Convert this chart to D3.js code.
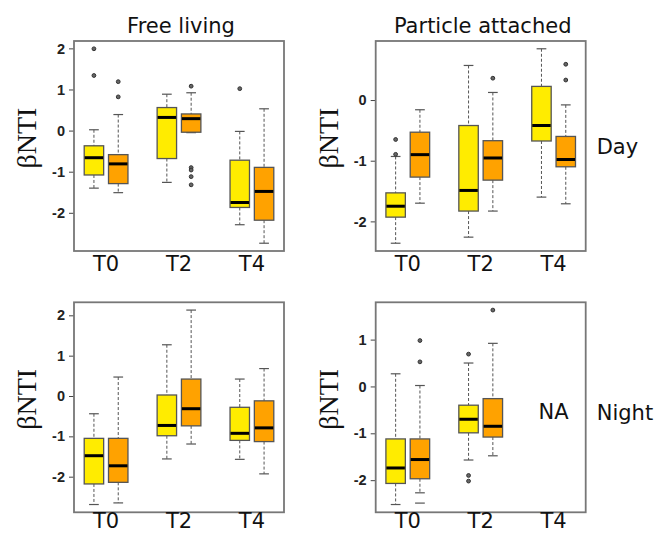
<!DOCTYPE html>
<html>
<head>
<meta charset="utf-8">
<script src="https://cdn.jsdelivr.net/npm/d3@7"></script>
<style>
  body { margin: 0; background: #fff; }
  svg { display: block; }
</style>
</head>
<body>
<div id="chart"></div>
<script>
const timepoints = ["T0", "T2", "T4"]
const fractions = ["Free living", "Particle attached"]
const periods = ["Day", "Night"]
const boxColors = ["#FFEC00", "#FFA200"]

// box: [whisker low, q1, median, q3, whisker high]; size 0 = yellow, 1 = orange
const freeDay = [
  { time: "T0", size: 0, box: [-1.40, -1.08, -0.66, -0.37, 0.02], out: [1.99, 1.34] },
  { time: "T0", size: 1, box: [-1.51, -1.29, -0.81, -0.585, 0.39], out: [1.19, 0.82] },
  { time: "T2", size: 0, box: [-1.26, -0.68, 0.32, 0.56, 0.885], out: [] },
  { time: "T2", size: 1, box: [-0.05, -0.04, 0.29, 0.405, 0.92], out: [1.08, -0.90, -0.96, -1.12, -1.32] },
  { time: "T4", size: 0, box: [-2.29, -1.87, -1.75, -0.72, -0.02], out: [1.02] },
  { time: "T4", size: 1, box: [-2.74, -2.18, -1.48, -0.895, 0.53], out: [] },
]

const particleDay = [
  { time: "T0", size: 0, box: [-2.36, -1.93, -1.75, -1.53, -0.93], out: [-0.65, -0.895] },
  { time: "T0", size: 1, box: [-1.70, -1.27, -0.90, -0.53, -0.16], out: [] },
  { time: "T2", size: 0, box: [-2.26, -1.83, -1.49, -0.42, 0.57], out: [] },
  { time: "T2", size: 1, box: [-1.83, -1.32, -0.955, -0.67, 0.125], out: [0.36] },
  { time: "T4", size: 0, box: [-1.60, -0.675, -0.42, 0.225, 0.845], out: [] },
  { time: "T4", size: 1, box: [-1.71, -1.10, -0.98, -0.60, -0.08], out: [0.59, 0.33] },
]

const freeNight = [
  { time: "T0", size: 0, box: [-2.69, -2.18, -1.48, -1.05, -0.44], out: [] },
  { time: "T0", size: 1, box: [-2.65, -2.14, -1.73, -1.05, 0.47], out: [] },
  { time: "T2", size: 0, box: [-1.56, -0.985, -0.73, 0.025, 1.27], out: [] },
  { time: "T2", size: 1, box: [-1.19, -0.74, -0.315, 0.42, 2.13], out: [] },
  { time: "T4", size: 0, box: [-1.57, -1.10, -0.925, -0.28, 0.42], out: [] },
  { time: "T4", size: 1, box: [-1.93, -1.13, -0.79, -0.12, 0.68], out: [] },
]

const particleNight = [
  { time: "T0", size: 0, box: [-2.52, -2.07, -1.74, -1.12, 0.27], out: [] },
  { time: "T0", size: 1, box: [-2.27, -1.97, -1.56, -1.12, 0.02], out: [0.98, 0.525], dash: [-2.49] },
  { time: "T2", size: 0, box: [-1.57, -0.99, -0.70, -0.40, 0.50], out: [0.69, -1.90, -2.02] },
  { time: "T2", size: 1, box: [-1.48, -1.08, -0.85, -0.26, 0.92], out: [1.63] },
]
const missingLabel = { time: "T4", value: -0.54, text: "NA" }

const panels = [
  { data: freeDay, col: 0, row: 0 },
  { data: particleDay, col: 1, row: 0 },
  { data: freeNight, col: 0, row: 1 },
  { data: particleNight, col: 1, row: 1, missing: missingLabel },
]

const width = 656
const height = 533
const plotW = 210
const plotH = 210
const colX = [74, 375.7]
const rowY = [41, 302.3]
const xLabelY = [19.5, 15.5]
const periodY = [1, 5.5]

const svg = d3.select("#chart").append("svg")
    .attr("width", width)
    .attr("height", height)

// R style positions: 1,2 | 4,5 | 7,8
const boxPos = d => timepoints.indexOf(d.time) * 3 + 1 + d.size
const xScale = d3.scaleLinear()
    .domain([0.5 - 0.32, 8.5 + 0.32])
    .range([0, plotW])

panels.forEach(p => {
  const values = p.data.flatMap(d => d.box.concat(d.out, d.dash || []))
  const [mn, mx] = d3.extent(values)
  const pad = (mx - mn) * 0.04
  const yScale = d3.scaleLinear()
      .domain([mn - pad, mx + pad])
      .range([plotH, 0])

  const bounds = svg.append("g")
      .attr("transform", `translate(${colX[p.col]},${rowY[p.row]})`)

  // y axis
  const ticks = d3.range(Math.ceil(mn - pad), Math.floor(mx + pad) + 1)
  const yAxis = bounds.append("g")
      .call(d3.axisLeft(yScale)
        .tickValues(ticks)
        .tickSize(5)
        .tickPadding(4)
        .tickFormat(d => String(d)))
  yAxis.select(".domain").remove()
  yAxis.selectAll(".tick line").attr("stroke", "#444")
  yAxis.selectAll(".tick text")
      .attr("fill", "#222")
      .style("font-family", "'Liberation Sans', Arial, sans-serif")
      .style("font-size", "14.5px")
      .style("font-weight", "bold")

  const box = bounds.selectAll(".box")
    .data(p.data)
    .join("g")
      .attr("class", "box")
      .attr("transform", d => `translate(${xScale(boxPos(d))},0)`)

  const bw = xScale(0.8) - xScale(0)

  // whiskers
  box.append("line")
      .attr("y1", d => yScale(d.box[4]))
      .attr("y2", d => yScale(d.box[3]))
      .attr("stroke", "#555").attr("stroke-dasharray", "3,2")
  box.append("line")
      .attr("y1", d => yScale(d.box[1]))
      .attr("y2", d => yScale(d.box[0]))
      .attr("stroke", "#555").attr("stroke-dasharray", "3,2")
  box.selectAll(".staple")
    .data(d => [d.box[0], d.box[4]])
    .join("line")
      .attr("x1", -bw / 4).attr("x2", bw / 4)
      .attr("y1", d => yScale(d)).attr("y2", d => yScale(d))
      .attr("stroke", "#555").attr("stroke-width", 1.2)

  box.append("rect")
      .attr("x", -bw / 2)
      .attr("width", bw)
      .attr("y", d => yScale(d.box[3]))
      .attr("height", d => yScale(d.box[1]) - yScale(d.box[3]))
      .attr("fill", d => boxColors[d.size])
      .attr("stroke", "#555")
      .attr("stroke-width", 1.3)

  box.append("line")
      .attr("x1", -bw / 2 + 0.5).attr("x2", bw / 2 - 0.5)
      .attr("y1", d => yScale(d.box[2])).attr("y2", d => yScale(d.box[2]))
      .attr("stroke", "#000").attr("stroke-width", 3)

  box.selectAll(".out")
    .data(d => d.out)
    .join("circle")
      .attr("r", 1.9)
      .attr("cy", d => yScale(d))
      .attr("fill", "#666")
      .attr("stroke", "#333")
      .attr("stroke-width", 1)

  box.selectAll(".dash")
    .data(d => d.dash || [])
    .join("line")
      .attr("x1", -bw / 4).attr("x2", bw / 4)
      .attr("y1", d => yScale(d)).attr("y2", d => yScale(d))
      .attr("stroke", "#777").attr("stroke-width", 1.5)

  // frame
  bounds.append("rect")
      .attr("width", plotW)
      .attr("height", plotH)
      .attr("fill", "none")
      .attr("stroke", "#777")
      .attr("stroke-width", 1.8)

  // x labels
  bounds.selectAll(".xlab")
    .data(timepoints)
    .join("text")
      .attr("x", (d, i) => xScale(i * 3 + 1.5))
      .attr("y", plotH + xLabelY[p.row])
      .attr("text-anchor", "middle")
      .style("font-family", "'DejaVu Sans', sans-serif")
      .style("font-size", "21px")
      .attr("fill", "#111")
      .text(d => d)

  // y title
  bounds.append("text")
      .attr("transform", `translate(-38,${plotH / 2 - 8}) rotate(-90)`)
      .attr("text-anchor", "middle")
      .style("font-family", "'Liberation Serif', 'Times New Roman', serif")
      .style("font-size", "28px")
      .attr("fill", "#111")
      .text("βNTI")

  if (p.row === 0) {
    bounds.append("text")
        .attr("x", plotW / 2 + 2)
        .attr("y", -8)
        .attr("text-anchor", "middle")
        .style("font-family", "'DejaVu Sans', sans-serif")
        .style("font-size", "21px")
        .attr("fill", "#111")
        .text(fractions[p.col])
  }

  if (p.col === 1) {
    bounds.append("text")
        .attr("x", plotW + 11)
        .attr("y", plotH / 2 + periodY[p.row])
        .attr("dominant-baseline", "central")
        .style("font-family", "'DejaVu Sans', sans-serif")
        .style("font-size", "21px")
        .attr("fill", "#111")
        .text(periods[p.row])
  }

  if (p.missing) {
    bounds.append("text")
        .attr("x", xScale(timepoints.indexOf(p.missing.time) * 3 + 1.5))
        .attr("y", yScale(p.missing.value))
        .attr("text-anchor", "middle")
        .attr("dominant-baseline", "central")
        .style("font-family", "'DejaVu Sans', sans-serif")
        .style("font-size", "21px")
        .attr("fill", "#111")
        .text(p.missing.text)
  }
})
</script>
</body>
</html>
